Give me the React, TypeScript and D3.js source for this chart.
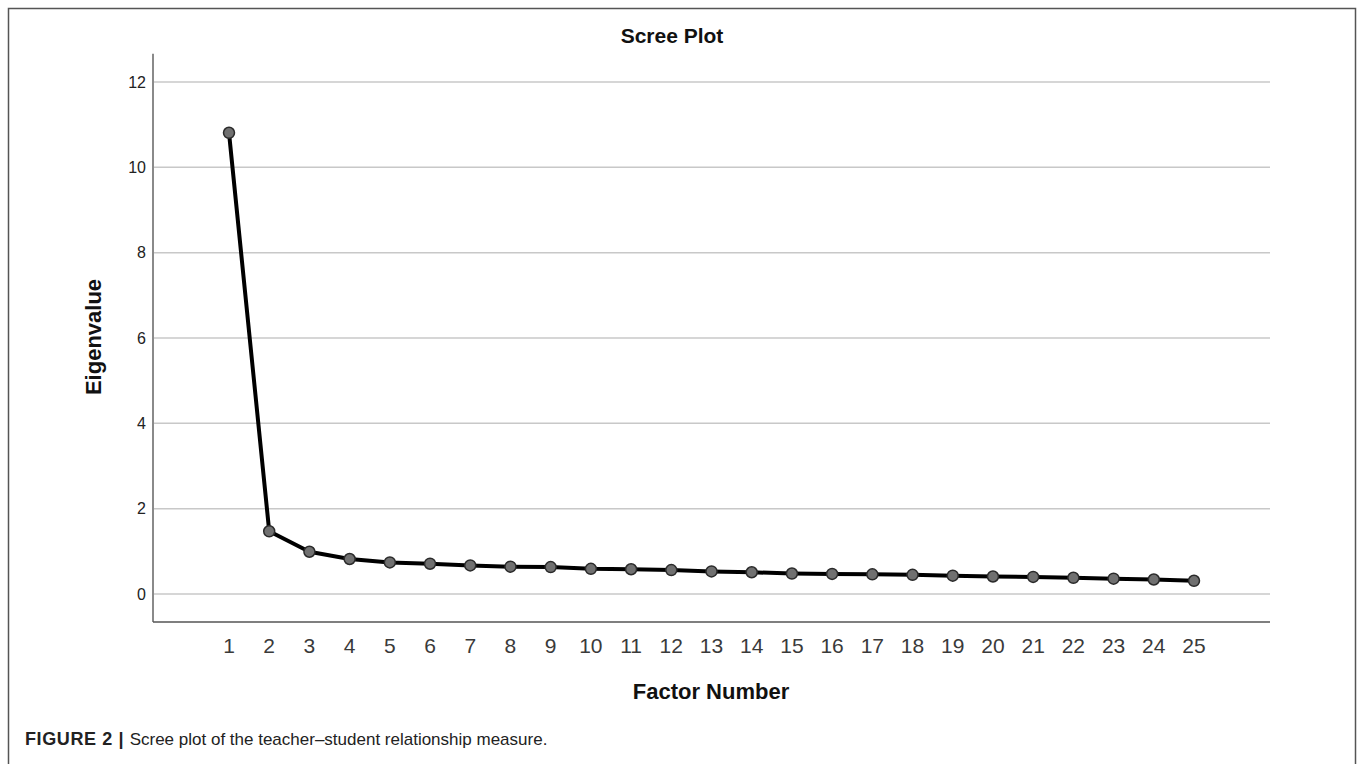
import React, { useEffect, useRef } from 'react';
import * as d3 from 'd3';

// Scree plot: eigenvalues per extracted factor
const factors: number[] = d3.range(1, 26);
const eigenvalues: number[] = [
  10.81, 1.47, 0.99, 0.82, 0.74, 0.71, 0.67, 0.64, 0.63, 0.59,
  0.58, 0.56, 0.53, 0.51, 0.48, 0.47, 0.46, 0.45, 0.43, 0.41,
  0.40, 0.38, 0.36, 0.34, 0.31,
];
const yTicks: number[] = [0, 2, 4, 6, 8, 10, 12];

const W = 1357;
const H = 764;
const FONT = '"Liberation Sans", Arial, Helvetica, sans-serif';

const App: React.FC = () => {
  const svgRef = useRef<SVGSVGElement>(null);

  useEffect(() => {
    document.body.style.margin = '0';
    if (!svgRef.current) return;
    const svg = d3.select(svgRef.current);
    svg.selectAll('*').remove();

    const x = d3.scaleLinear().domain([1, 25]).range([229, 1194]);
    const y = d3.scaleLinear().domain([0, 12]).range([594, 82]);
    const left = 153;
    const right = 1270;
    const bottom = 622;
    const top = y(12.66);

    // outer frame
    svg.append('rect')
      .attr('x', 8.5).attr('y', 8.5)
      .attr('width', 1347).attr('height', 800)
      .attr('fill', '#fff')
      .attr('stroke', '#555')
      .attr('stroke-width', 1.5);

    // title
    svg.append('text')
      .attr('x', 672).attr('y', 43)
      .attr('text-anchor', 'middle')
      .attr('font-family', FONT)
      .attr('font-weight', 'bold')
      .attr('font-size', 21)
      .attr('fill', '#111')
      .text('Scree Plot');

    // gridlines
    svg.append('g')
      .selectAll('line')
      .data(yTicks)
      .join('line')
      .attr('x1', left).attr('x2', right)
      .attr('y1', d => y(d)).attr('y2', d => y(d))
      .attr('stroke', '#c8c8c8')
      .attr('stroke-width', 1.5);

    // y tick labels
    svg.append('g')
      .selectAll('text')
      .data(yTicks)
      .join('text')
      .attr('x', 146)
      .attr('y', d => y(d) + 5.5)
      .attr('text-anchor', 'end')
      .attr('font-family', FONT)
      .attr('font-size', 16)
      .attr('fill', '#222')
      .text(d => d);

    // axes
    svg.append('line')
      .attr('x1', left).attr('x2', left)
      .attr('y1', top).attr('y2', bottom)
      .attr('stroke', '#8a8a8a')
      .attr('stroke-width', 2);
    svg.append('line')
      .attr('x1', left).attr('x2', right)
      .attr('y1', bottom).attr('y2', bottom)
      .attr('stroke', '#555')
      .attr('stroke-width', 1.5);

    // x tick labels
    svg.append('g')
      .selectAll('text')
      .data(factors)
      .join('text')
      .attr('x', d => x(d))
      .attr('y', 653)
      .attr('text-anchor', 'middle')
      .attr('font-family', FONT)
      .attr('font-size', 21)
      .attr('fill', '#3a3a3a')
      .text(d => d);

    // axis titles
    svg.append('text')
      .attr('x', 711).attr('y', 699)
      .attr('text-anchor', 'middle')
      .attr('font-family', FONT)
      .attr('font-weight', 'bold')
      .attr('font-size', 22)
      .attr('fill', '#111')
      .text('Factor Number');
    svg.append('text')
      .attr('transform', 'translate(101,337) rotate(-90)')
      .attr('text-anchor', 'middle')
      .attr('font-family', FONT)
      .attr('font-weight', 'bold')
      .attr('font-size', 22)
      .attr('fill', '#111')
      .text('Eigenvalue');

    // the line
    const line = d3.line<number>()
      .x((_, i) => x(factors[i]))
      .y(d => y(d));
    svg.append('path')
      .datum(eigenvalues)
      .attr('fill', 'none')
      .attr('stroke', '#000')
      .attr('stroke-width', 4)
      .attr('stroke-linejoin', 'round')
      .attr('d', line);

    // markers
    svg.append('g')
      .selectAll('circle')
      .data(eigenvalues)
      .join('circle')
      .attr('cx', (_, i) => x(factors[i]))
      .attr('cy', d => y(d))
      .attr('r', 5.5)
      .attr('fill', '#707070')
      .attr('stroke', '#2a2a2a')
      .attr('stroke-width', 1.5);

    // caption
    const cap = svg.append('text')
      .attr('x', 25).attr('y', 745)
      .attr('font-family', FONT)
      .attr('font-size', 17)
      .attr('fill', '#222');
    cap.append('tspan')
      .attr('font-weight', 'bold')
      .attr('font-size', 18)
      .attr('letter-spacing', 0.6)
      .text('FIGURE 2 | ');
    cap.append('tspan').text('Scree plot of the teacher\u2013student relationship measure.');
  }, []);

  return <svg ref={svgRef} width={W} height={H} style={{ display: 'block' }} />;
};

export default App;
